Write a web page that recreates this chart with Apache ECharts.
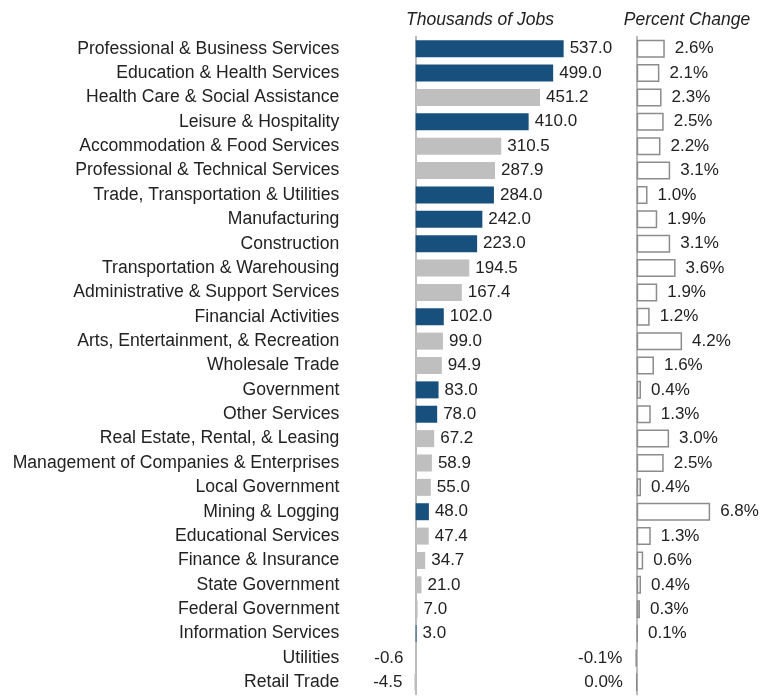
<!DOCTYPE html>
<html lang="en">
<head>
    <meta charset="UTF-8">
    <title>Jobs</title>
    <script src="https://cdn.jsdelivr.net/npm/echarts@6/dist/echarts.min.js"></script>
</head>
<style>
html,body{margin:0;padding:0;background:#fff;}
#chartBox{width:768px;height:696px;}
</style>
<body>
    <div id="chartBox"></div>
</body>
<script>
// 数据
const categories = ['Professional & Business Services','Education & Health Services','Health Care & Social Assistance',
    'Leisure & Hospitality','Accommodation & Food Services','Professional & Technical Services',
    'Trade, Transportation & Utilities','Manufacturing','Construction','Transportation & Warehousing',
    'Administrative & Support Services','Financial Activities','Arts, Entertainment, & Recreation',
    'Wholesale Trade','Government','Other Services','Real Estate, Rental, & Leasing',
    'Management of Companies & Enterprises','Local Government','Mining & Logging','Educational Services',
    'Finance & Insurance','State Government','Federal Government','Information Services','Utilities','Retail Trade'];
const jobs = [537.0,499.0,451.2,410.0,310.5,287.9,284.0,242.0,223.0,194.5,167.4,102.0,99.0,94.9,83.0,78.0,
    67.2,58.9,55.0,48.0,47.4,34.7,21.0,7.0,3.0,-0.6,-4.5];
const pctChange = [2.6,2.1,2.3,2.5,2.2,3.1,1.0,1.9,3.1,3.6,1.9,1.2,4.2,1.6,0.4,1.3,3.0,2.5,0.4,6.8,1.3,0.6,
    0.4,0.3,0.1,-0.1,0.0];
// 1 = supersector
const supersector = [1,1,0,1,0,0,1,1,1,0,0,1,0,0,1,1,0,0,0,1,0,0,0,0,1,0,0];

const NAVY = '#17507c';
const GRAY = '#bfbfbf';
const TXT = '#222';
const FONT = '"Liberation Sans", Arial, sans-serif';

let chartObj = echarts.init(document.getElementById('chartBox'));

let jobsData = jobs.map((v, i) => ({
    value: v,
    itemStyle: {color: supersector[i] ? NAVY : GRAY},
    label: {position: v < 0 ? 'left' : 'right', distance: v < 0 ? 12 : 6}
}));
let pctData = pctChange.map((v, i) => ({
    value: v,
    label: {position: jobs[i] < 0 ? 'left' : 'right', distance: jobs[i] < 0 ? 13 : 10}
}));

let option = {
    animation: false,
    title: [
        {text: 'Thousands of Jobs', left: 475, top: 6, textAlign: 'center',
            textStyle: {fontSize: 17.5, fontStyle: 'italic', fontWeight: 'normal', color: TXT, fontFamily: FONT}},
        {text: 'Percent Change', left: 682, top: 6, textAlign: 'center',
            textStyle: {fontSize: 17.5, fontStyle: 'italic', fontWeight: 'normal', color: TXT, fontFamily: FONT}}
    ],
    grid: [
        {left: 414.3, top: 36.5, width: 166.7, height: 658},
        {left: 631.3, top: 36.5, width: 91.8, height: 658}
    ],
    xAxis: [
        {gridIndex: 0, type: 'value', min: -5, max: 600, show: false},
        {gridIndex: 1, type: 'value', min: -0.5, max: 8, show: false}
    ],
    yAxis: [
        {
            gridIndex: 0, type: 'category', data: categories, inverse: true,
            axisLine: {show: true, onZero: true, lineStyle: {color: '#a6a6a6', width: 1.5}},
            axisTick: {show: false},
            axisLabel: {margin: 75, fontSize: 17.6, color: TXT, fontFamily: FONT},
            splitLine: {show: false}
        },
        {
            gridIndex: 1, type: 'category', data: categories, inverse: true,
            axisLine: {show: true, onZero: true, lineStyle: {color: '#a6a6a6', width: 1.5}},
            axisTick: {show: false},
            axisLabel: {show: false},
            splitLine: {show: false}
        }
    ],
    series: [
        {
            type: 'bar', xAxisIndex: 0, yAxisIndex: 0, barWidth: 17, data: jobsData,
            label: {show: true, fontSize: 17, color: TXT, fontFamily: FONT,
                formatter: p => p.value.toFixed(1)}
        },
        {
            type: 'bar', xAxisIndex: 1, yAxisIndex: 1, barWidth: 18, data: pctData,
            itemStyle: {color: '#fff', borderColor: '#8c8c8c', borderWidth: 1.5},
            label: {show: true, fontSize: 17, color: TXT, fontFamily: FONT,
                formatter: p => p.value.toFixed(1) + '%'}
        }
    ]
};
chartObj.setOption(option);
</script>
</html>
